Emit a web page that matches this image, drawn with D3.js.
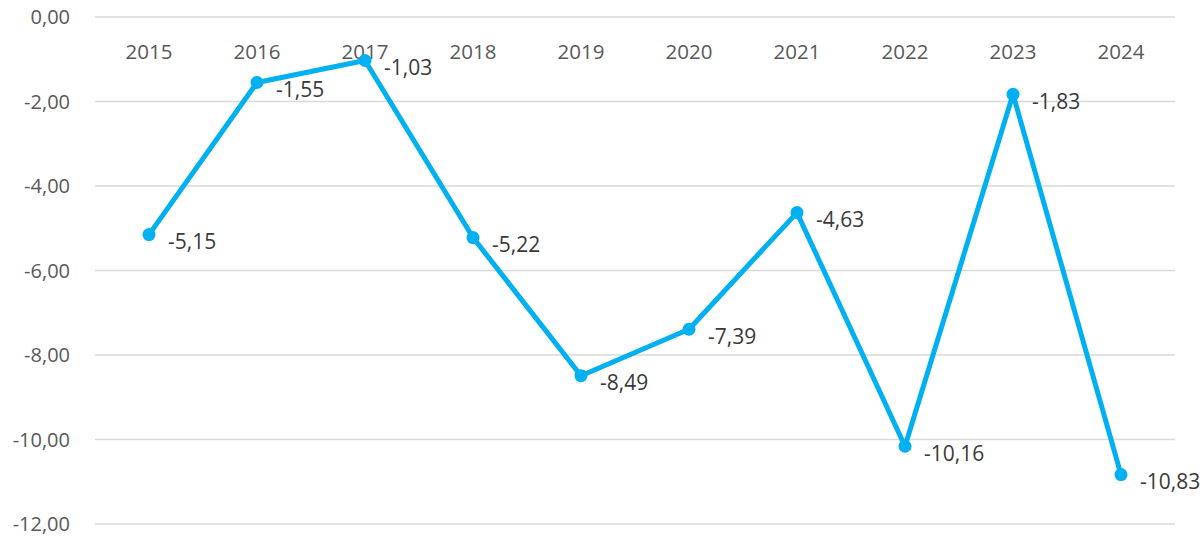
<!DOCTYPE html>
<html>
<head>
<meta charset="utf-8">
<script src="https://cdn.jsdelivr.net/npm/d3@7"></script>
<style>
    body { margin: 0; background: #fff; }
    text { font-family: "Open Sans", "Noto Sans", sans-serif; }
</style>
</head>
<body>
<svg id="mainSvg" width="1204" height="537"></svg>
<script>
// Chart data
let years = ["2015", "2016", "2017", "2018", "2019", "2020", "2021", "2022", "2023", "2024"];
let values = [-5.15, -1.55, -1.03, -5.22, -8.49, -7.39, -4.63, -10.16, -1.83, -10.83];
let yTicks = [0, -2, -4, -6, -8, -10, -12];

let fmt = function (v) {
    return v.toFixed(2).replace(".", ",");
};

let svg = d3.select("#mainSvg");

let x = d3.scaleBand().domain(years).range([95, 1175]);
let y = d3.scaleLinear().domain([-12, 0]).range([524, 17]);

// gridlines
let grid = svg.append("g");
grid.selectAll("line")
    .data(yTicks)
    .join("line")
    .attr("x1", 95)
    .attr("x2", 1175)
    .attr("y1", (d) => y(d))
    .attr("y2", (d) => y(d))
    .attr("stroke", "#d9d9d9")
    .attr("stroke-width", 1.5);

// y tick labels
svg.append("g")
    .selectAll("text")
    .data(yTicks)
    .join("text")
    .attr("x", 70)
    .attr("y", (d) => y(d))
    .attr("dy", "0.35em")
    .attr("text-anchor", "end")
    .attr("fill", "#595959")
    .attr("font-size", 20)
    .text((d) => fmt(d));

// year labels along the top
svg.append("g")
    .selectAll("text")
    .data(years)
    .join("text")
    .attr("x", (d) => x(d) + x.bandwidth() / 2)
    .attr("y", 52)
    .attr("dy", "0.35em")
    .attr("text-anchor", "middle")
    .attr("fill", "#595959")
    .attr("font-size", 20.5)
    .text((d) => d);

let pts = years.map((d, i) => ({ year: d, value: values[i] }));
let cx = (d) => x(d.year) + x.bandwidth() / 2;

// line
svg.append("g")
    .append("path")
    .datum(pts)
    .attr("fill", "none")
    .attr("stroke", "#00b0f0")
    .attr("stroke-width", 5)
    .attr("stroke-linejoin", "round")
    .attr("d", d3.line().x(cx).y((d) => y(d.value)));

// markers
svg.append("g")
    .selectAll("circle")
    .data(pts)
    .join("circle")
    .attr("cx", cx)
    .attr("cy", (d) => y(d.value))
    .attr("r", 6.5)
    .attr("fill", "#00b0f0");

// data labels
svg.append("g")
    .selectAll("text")
    .data(pts)
    .join("text")
    .attr("x", (d) => cx(d) + 19)
    .attr("y", (d) => y(d.value) + 7)
    .attr("dy", "0.35em")
    .attr("fill", "#3a3a3a")
    .attr("font-size", 21)
    .text((d) => fmt(d.value));
</script>
</body>
</html>
